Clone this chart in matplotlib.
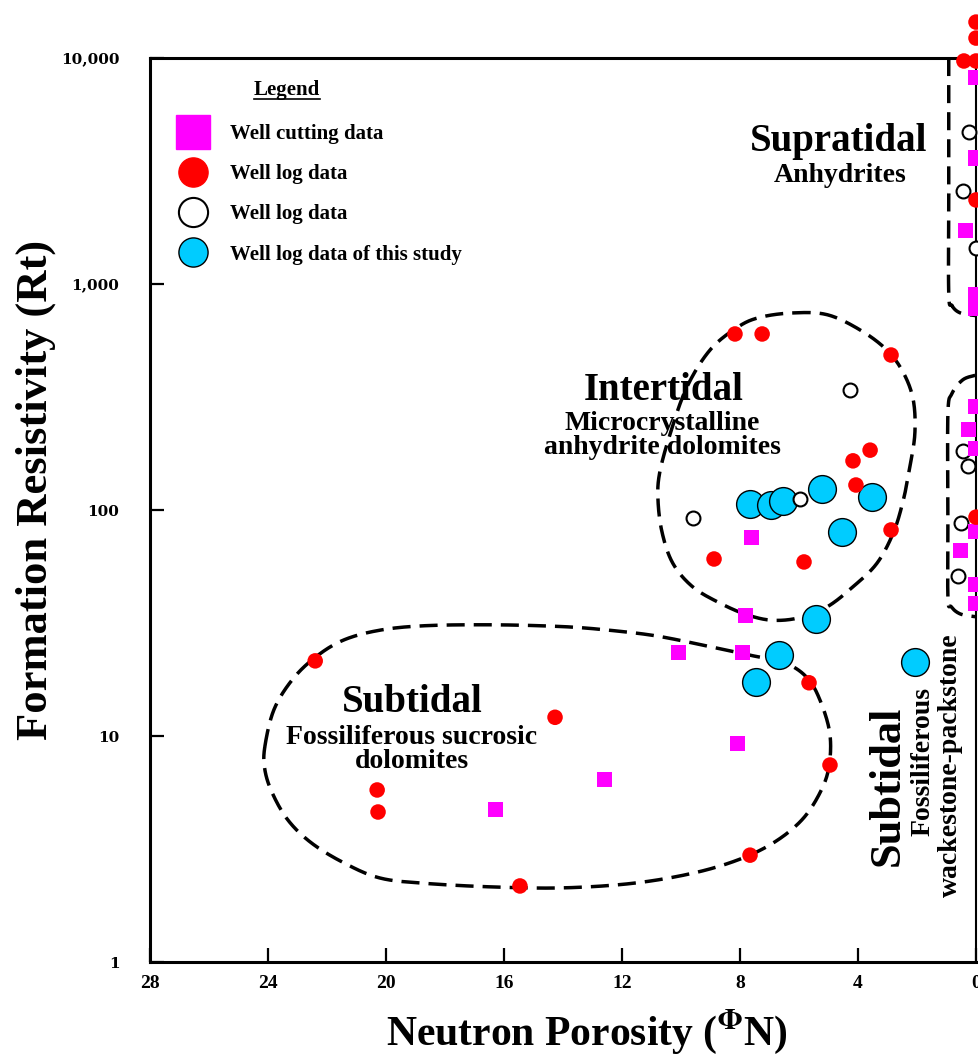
import numpy as np
import matplotlib
matplotlib.use("Agg")
import matplotlib.pyplot as plt
from matplotlib.lines import Line2D

plt.rcParams['font.family'] = ['Liberation Serif', 'DejaVu Serif']
plt.rcParams['font.weight'] = 'bold'
plt.rcParams['mathtext.fontset'] = 'stix'

# ---------------- data (neutron porosity %, resistivity ohm-m) ----------------
cutting_phi = [16.3, 12.6, 8.07, 10.1, 7.9, 7.8, 7.6, 0.34, 0.51, 0.27,
               0, 0, 0, 0, 0, 0, 0, 0, 0]
cutting_rt = [4.71, 6.39, 9.31, 23.3, 23.5, 34.3, 75.2, 1717, 65.9, 228,
              8160, 3610, 894, 783, 286, 188, 80, 46.6, 38.4]

logred_phi = [22.4, 20.3, 20.27, 14.27, 15.46, 7.66, 4.95, 5.66, 8.17, 7.25,
              2.88, 3.59, 4.17, 4.07, 2.88, 8.88, 5.83, 0.41, 0, 0, 0, 0, 0]
logred_rt = [21.5, 5.77, 4.61, 12.1, 2.17, 2.97, 7.44, 17.2, 601, 601,
             485, 184, 165, 129, 81.6, 60.7, 58.9, 9700, 9700, 12250, 14420, 2355, 93]

logopen_phi = [9.59, 5.97, 4.27, 0.24, 0.44, 0, 0.44, 0.27, 0.51, 0.61]
logopen_rt = [92.2, 112, 340, 4710, 2580, 1443, 182, 157, 87.6, 51]

study_phi = [7.66, 6.95, 6.54, 5.22, 3.53, 4.54, 5.42, 6.68, 7.46, 2.07]
study_rt = [106, 105, 110, 124, 114, 80, 33, 22.8, 17.3, 21.3]

x_ticks = [28, 24, 20, 16, 12, 8, 4, 0]
y_ticks = [1, 10, 100, 1000, 10000]
y_labels = ['1', '10', '100', '1,000', '10,000']

legend_labels = ['Well cutting data', 'Well log data', 'Well log data',
                 'Well log data of this study']

MAGENTA = '#FF00FF'
RED = '#FF0000'
CYAN = '#00CCFF'

# ---------------- figure ----------------
W, H = 979, 1056
fig = plt.figure(figsize=(W / 100, H / 100), dpi=100)
ax = fig.add_axes([150 / W, 94 / H, 826 / W, 904 / H])
ax.set_yscale('log')
ax.set_xlim(28, 0)
ax.set_ylim(1, 10000)

ax.set_xticks(x_ticks)
ax.set_xticklabels([str(t) for t in x_ticks])
ax.set_yticks(y_ticks)
ax.set_yticklabels(y_labels)
ax.yaxis.set_minor_locator(matplotlib.ticker.NullLocator())
ax.tick_params(axis='both', direction='in', length=10, width=1.6,
               top=False, right=False)
ax.tick_params(axis='x', pad=9, labelsize=14)
ax.tick_params(axis='y', pad=22, labelsize=11)
for lab in ax.get_yticklabels():
    lab.set_fontfamily('DejaVu Serif')
    lab.set_fontweight('bold')
for lab in ax.get_xticklabels():
    lab.set_fontweight('bold')

for side in ['left', 'bottom', 'top']:
    ax.spines[side].set_linewidth(2.2)
ax.spines['right'].set_linewidth(1.5)

# ---------------- outlines (annotation shapes) ----------------
def smooth_closed(pts, n=24):
    P = np.asarray(pts, float)
    N = len(P)
    out = []
    t = np.linspace(0, 1, n, endpoint=False)[:, None]
    for i in range(N):
        p0, p1, p2, p3 = P[(i - 1) % N], P[i], P[(i + 1) % N], P[(i + 2) % N]
        out.append(0.5 * (2 * p1 + (-p0 + p2) * t
                          + (2 * p0 - 5 * p1 + 4 * p2 - p3) * t ** 2
                          + (-p0 + 3 * p1 - 3 * p2 + p3) * t ** 3))
    out = np.vstack(out)
    return np.vstack([out, out[:1]])


def smooth_open(pts, n=24):
    P = np.asarray(pts, float)
    P = np.vstack([P[0], P, P[-1]])
    out = []
    t = np.linspace(0, 1, n)[:, None]
    for i in range(1, len(P) - 2):
        p0, p1, p2, p3 = P[i - 1], P[i], P[i + 1], P[i + 2]
        out.append(0.5 * (2 * p1 + (-p0 + p2) * t
                          + (2 * p0 - 5 * p1 + 4 * p2 - p3) * t ** 2
                          + (-p0 + 3 * p1 - 3 * p2 + p3) * t ** 3))
    return np.vstack(out)


intertidal_shape = [(.778, .718), (.820, .716), (.860, .699), (.892, .677), (.912, .652),
                    (.924, .622), (.926, .585), (.920, .548), (.912, .511), (.900, .475),
                    (.880, .441), (.851, .415), (.820, .393), (.787, .381), (.754, .378),
                    (.723, .384), (.690, .397), (.657, .415), (.633, .441), (.620, .475),
                    (.615, .511), (.617, .541), (.630, .585), (.650, .636), (.678, .677),
                    (.711, .702), (.738, .713)]
subtidal_shape = [(.139, .238), (.150, .279), (.172, .312), (.200, .337), (.234, .356),
                  (.278, .367), (.333, .372), (.416, .373), (.500, .371), (.556, .367),
                  (.611, .361), (.667, .351), (.723, .340), (.768, .331), (.795, .315),
                  (.811, .290), (.823, .253), (.822, .216), (.811, .187), (.789, .157),
                  (.755, .132), (.712, .113), (.656, .098), (.584, .087), (.500, .082),
                  (.416, .083), (.333, .087), (.278, .093), (.234, .110), (.195, .132),
                  (.167, .157), (.148, .187), (.139, .213)]
supratidal_shape = [(.967, 1.0), (.967, .85), (.967, .740), (.971, .726), (.981, .718), (1.0, .715)]
wacke_shape = [(.999, .649), (.984, .644), (.971, .629), (.966, .607), (.966, .50),
               (.966, .404), (.970, .393), (.981, .385), (.999, .382)]

dash = (0, (5.2, 2.6))
for shape, closed in [(intertidal_shape, True), (subtidal_shape, True),
                      (supratidal_shape, False), (wacke_shape, False)]:
    c = smooth_closed(shape) if closed else smooth_open(shape)
    ax.plot(c[:, 0], c[:, 1], transform=ax.transAxes, color='black', lw=2.5,
            linestyle=dash, clip_on=False, zorder=4)

# ---------------- data marks ----------------
ax.scatter(study_phi, study_rt, s=400, marker='o', facecolor=CYAN, edgecolor='black',
           linewidth=1.0, zorder=5, clip_on=False)
ax.scatter(logopen_phi, logopen_rt, s=100, marker='o', facecolor='white', edgecolor='black',
           linewidth=1.5, zorder=6, clip_on=False)
ax.scatter(cutting_phi, cutting_rt, s=117, marker='s', facecolor=MAGENTA, edgecolor='none',
           zorder=6, clip_on=False)
ax.scatter(logred_phi, logred_rt, s=125, marker='o', facecolor=RED, edgecolor='none',
           zorder=6, clip_on=False)

# ---------------- zone texts ----------------
def ftx(px):
    return (px - 150) / 826


def fty(py):
    return (962 - py) / 904


big = 28
small = 20
ax.text(ftx(839), fty(141), 'Supratidal', transform=ax.transAxes, ha='center', va='center',
        fontsize=big, fontweight='bold', zorder=3)
ax.text(ftx(840), fty(175), 'Anhydrites', transform=ax.transAxes, ha='center', va='center',
        fontsize=small, fontweight='bold', zorder=3)
ax.text(ftx(664), fty(391), 'Intertidal', transform=ax.transAxes, ha='center', va='center',
        fontsize=big, fontweight='bold', zorder=3)
ax.text(ftx(662), fty(423), 'Microcrystalline', transform=ax.transAxes, ha='center', va='center',
        fontsize=small, fontweight='bold', zorder=3)
ax.text(ftx(662), fty(448), 'anhydrite dolomites', transform=ax.transAxes, ha='center',
        va='center', fontsize=small, fontweight='bold', zorder=3)
ax.text(ftx(412), fty(703), 'Subtidal', transform=ax.transAxes, ha='center', va='center',
        fontsize=big, fontweight='bold', zorder=3)
ax.text(ftx(412), fty(738), 'Fossiliferous sucrosic', transform=ax.transAxes, ha='center',
        va='center', fontsize=small, fontweight='bold', zorder=3)
ax.text(ftx(412), fty(762), 'dolomites', transform=ax.transAxes, ha='center', va='center',
        fontsize=small, fontweight='bold', zorder=3)
ax.text(ftx(888), fty(786), 'Subtidal', transform=ax.transAxes, ha='center', va='center',
        rotation=90, fontsize=32, fontweight='bold', zorder=3)
ax.text(ftx(923), fty(762), 'Fossiliferous', transform=ax.transAxes, ha='center', va='center',
        rotation=90, fontsize=small, fontweight='bold', zorder=3)
ax.text(ftx(950), fty(765), 'wackestone-packstone', transform=ax.transAxes, ha='center',
        va='center', rotation=90, fontsize=small, fontweight='bold', zorder=3)

# ---------------- axis labels ----------------
ax.set_xlabel(r'Neutron Porosity ($^{\Phi}$N)', fontsize=30, fontweight='bold')
ax.xaxis.label.set_va('baseline')
ax.xaxis.set_label_coords(ftx(587), fty(1045))
ax.set_ylabel('Formation Resistivity (Rt)', fontsize=32, fontweight='bold')
ax.yaxis.set_label_coords(ftx(56), fty(490))

# ---------------- legend ----------------
handles = [
    Line2D([], [], ls='none', marker='s', ms=24, mfc=MAGENTA, mec=MAGENTA),
    Line2D([], [], ls='none', marker='o', ms=21, mfc=RED, mec=RED),
    Line2D([], [], ls='none', marker='o', ms=21, mfc='white', mec='black', mew=1.5),
    Line2D([], [], ls='none', marker='o', ms=21, mfc=CYAN, mec='black', mew=1.0),
]
leg = ax.legend(handles, legend_labels, loc='upper left',
                bbox_to_anchor=(ftx(172), fty(124)), borderaxespad=0, borderpad=0,
                frameon=False, handlelength=2.0, handletextpad=0.8, labelspacing=0.97,
                prop={'family': 'Liberation Serif', 'weight': 'bold', 'size': 15})

title = ax.text(ftx(287), fty(90), 'Legend', transform=ax.transAxes, ha='center',
                va='center', fontsize=15, fontweight='bold')
fig.canvas.draw()
bb = title.get_window_extent()
y_ul = bb.y0 + 1
fig.add_artist(Line2D([bb.x0 / W, bb.x1 / W], [y_ul / H, y_ul / H], color='black', lw=1.2,
                      transform=fig.transFigure))

fig.savefig('out.png', dpi=100)
